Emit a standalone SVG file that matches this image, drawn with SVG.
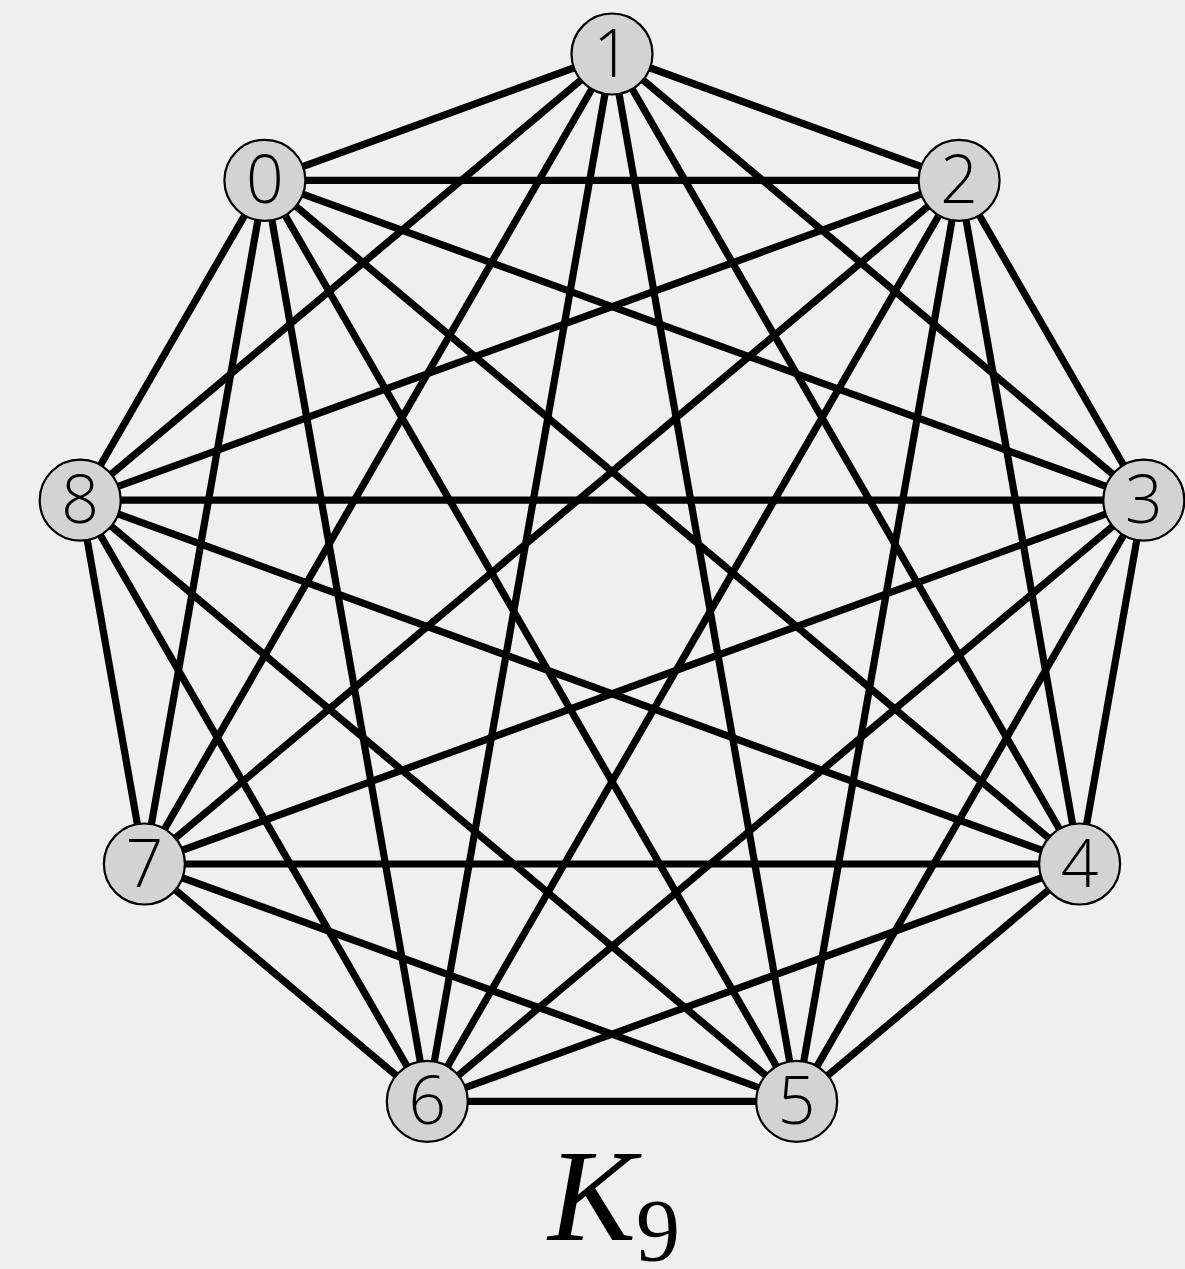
<svg xmlns="http://www.w3.org/2000/svg" width="1185" height="1269" viewBox="0 0 1185 1269">
<style>
.e{stroke:#000;stroke-width:7.2;fill:none}
.n circle{fill:#d3d3d3;stroke:#000;stroke-width:2.2}
.n text{font-family:"Open Sans","DejaVu Sans",sans-serif;font-weight:300;font-size:66px;fill:#000;text-anchor:middle}
</style>
<rect width="1185" height="1269" fill="#efefef"/>
<g id="edges" class="e">
<line x1="612" y1="54" x2="959.1" y2="180.3"/>
<line x1="612" y1="54" x2="1143.8" y2="500.2"/>
<line x1="612" y1="54" x2="1079.6" y2="864"/>
<line x1="612" y1="54" x2="796.7" y2="1101.4"/>
<line x1="612" y1="54" x2="427.3" y2="1101.4"/>
<line x1="612" y1="54" x2="144.4" y2="864"/>
<line x1="612" y1="54" x2="80.2" y2="500.2"/>
<line x1="612" y1="54" x2="264.9" y2="180.3"/>
<line x1="959.1" y1="180.3" x2="1143.8" y2="500.2"/>
<line x1="959.1" y1="180.3" x2="1079.6" y2="864"/>
<line x1="959.1" y1="180.3" x2="796.7" y2="1101.4"/>
<line x1="959.1" y1="180.3" x2="427.3" y2="1101.4"/>
<line x1="959.1" y1="180.3" x2="144.4" y2="864"/>
<line x1="959.1" y1="180.3" x2="80.2" y2="500.2"/>
<line x1="959.1" y1="180.3" x2="264.9" y2="180.3"/>
<line x1="1143.8" y1="500.2" x2="1079.6" y2="864"/>
<line x1="1143.8" y1="500.2" x2="796.7" y2="1101.4"/>
<line x1="1143.8" y1="500.2" x2="427.3" y2="1101.4"/>
<line x1="1143.8" y1="500.2" x2="144.4" y2="864"/>
<line x1="1143.8" y1="500.2" x2="80.2" y2="500.2"/>
<line x1="1143.8" y1="500.2" x2="264.9" y2="180.3"/>
<line x1="1079.6" y1="864" x2="796.7" y2="1101.4"/>
<line x1="1079.6" y1="864" x2="427.3" y2="1101.4"/>
<line x1="1079.6" y1="864" x2="144.4" y2="864"/>
<line x1="1079.6" y1="864" x2="80.2" y2="500.2"/>
<line x1="1079.6" y1="864" x2="264.9" y2="180.3"/>
<line x1="796.7" y1="1101.4" x2="427.3" y2="1101.4"/>
<line x1="796.7" y1="1101.4" x2="144.4" y2="864"/>
<line x1="796.7" y1="1101.4" x2="80.2" y2="500.2"/>
<line x1="796.7" y1="1101.4" x2="264.9" y2="180.3"/>
<line x1="427.3" y1="1101.4" x2="144.4" y2="864"/>
<line x1="427.3" y1="1101.4" x2="80.2" y2="500.2"/>
<line x1="427.3" y1="1101.4" x2="264.9" y2="180.3"/>
<line x1="144.4" y1="864" x2="80.2" y2="500.2"/>
<line x1="144.4" y1="864" x2="264.9" y2="180.3"/>
<line x1="80.2" y1="500.2" x2="264.9" y2="180.3"/>
</g>
<g id="node1" class="n"><circle cx="612" cy="54" r="40.5"/><text x="612" y="77">1</text></g>
<g id="node2" class="n"><circle cx="959.1" cy="180.3" r="40.5"/><text x="959.1" y="203.3">2</text></g>
<g id="node3" class="n"><circle cx="1143.8" cy="500.2" r="40.5"/><text x="1143.8" y="523.2">3</text></g>
<g id="node4" class="n"><circle cx="1079.6" cy="864" r="40.5"/><text x="1079.6" y="887">4</text></g>
<g id="node5" class="n"><circle cx="796.7" cy="1101.4" r="40.5"/><text x="796.7" y="1124.4">5</text></g>
<g id="node6" class="n"><circle cx="427.3" cy="1101.4" r="40.5"/><text x="427.3" y="1124.4">6</text></g>
<g id="node7" class="n"><circle cx="144.4" cy="864" r="40.5"/><text x="144.4" y="887">7</text></g>
<g id="node8" class="n"><circle cx="80.2" cy="500.2" r="40.5"/><text x="80.2" y="523.2">8</text></g>
<g id="node0" class="n"><circle cx="264.9" cy="180.3" r="40.5"/><text x="264.9" y="203.3">0</text></g>
<text x="548" y="1240" font-family="'Liberation Serif',serif" font-style="italic" font-size="132">K<tspan font-style="normal" font-size="88" dy="20">9</tspan></text>
</svg>
